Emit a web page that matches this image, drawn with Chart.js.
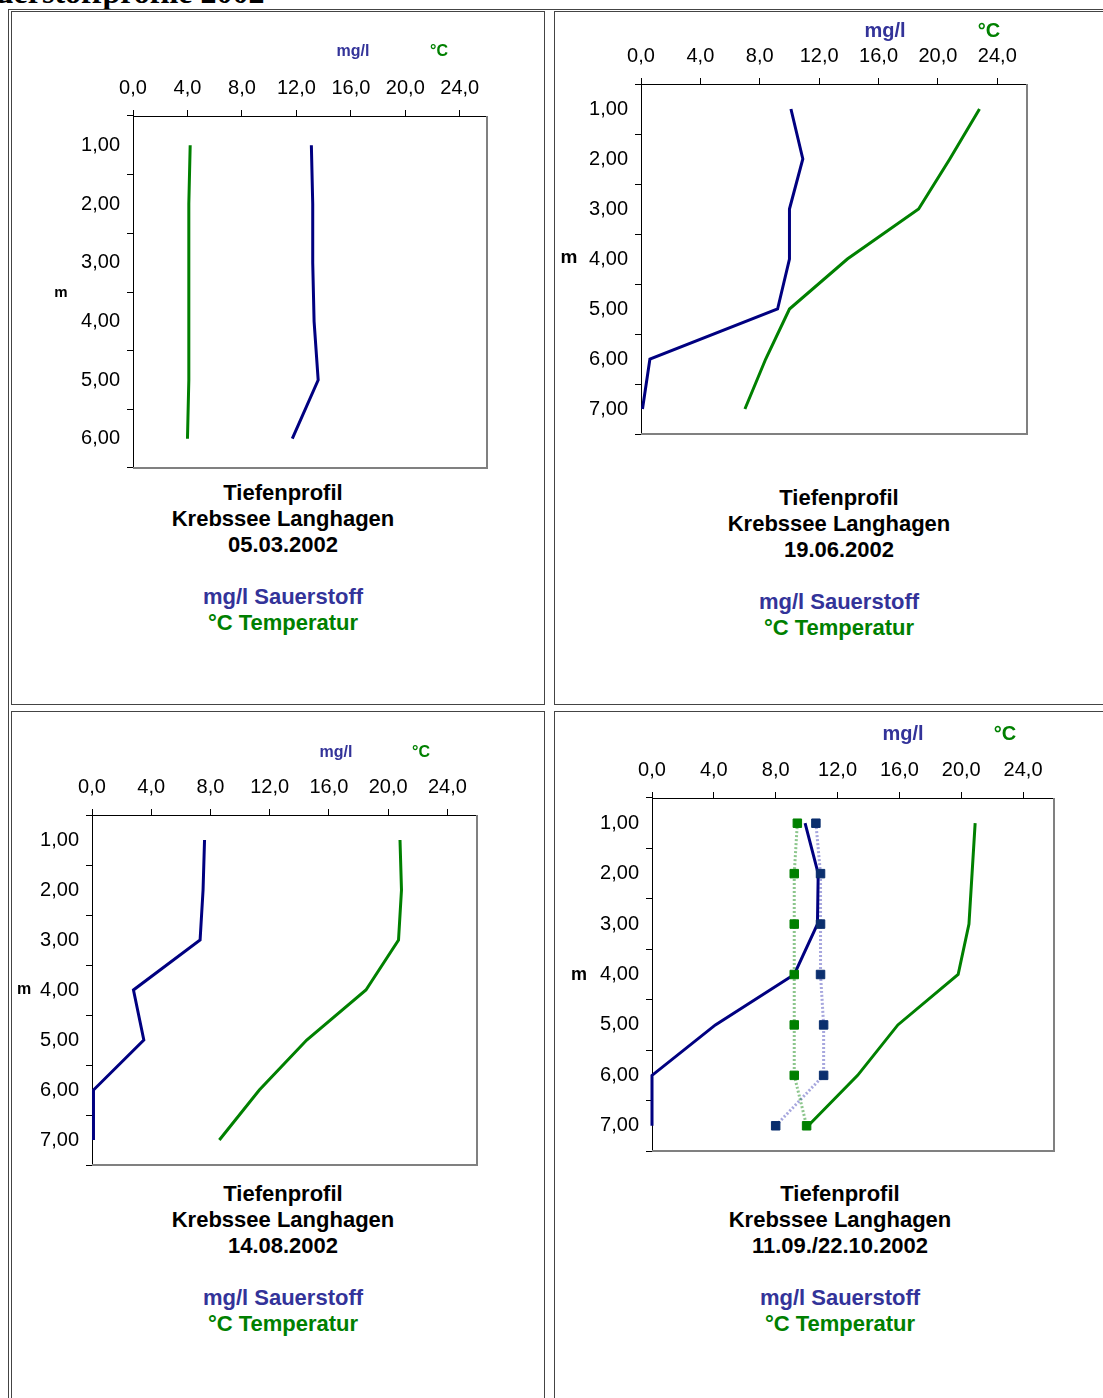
<!DOCTYPE html>
<html lang="de">
<head>
<meta charset="utf-8">
<title>Sauerstoffprofile 2002</title>
<script src="https://cdn.jsdelivr.net/npm/chart.js@4.4.1/dist/chart.umd.min.js"></script>
<style>
  html, body { margin: 0; padding: 0; background: #fff; overflow: hidden; width: 1103px; height: 1398px; }
  body { position: relative; font-family: "Liberation Sans", Arial, sans-serif; color: #000; }
  h1 { position: absolute; left: -38px; top: -26px; margin: 0; line-height: 36px;
       font: bold 32px "Liberation Serif", "Times New Roman", serif; white-space: nowrap; }
  .outer { position: absolute; left: 8px; top: 9px; width: 1200px; height: 1500px; border: 1px solid #444; }
  .cell { position: absolute; border: 1px solid #444; box-sizing: border-box; }
  canvas { position: absolute; }
  .lbl { position: absolute; font-weight: bold; white-space: nowrap; line-height: 1; transform: translate(-50%, -50%); }
  .blue { color: #333399; }
  .green { color: #008000; }
  .caption { position: absolute; width: 400px; text-align: center; font-weight: bold; font-size: 22px; line-height: 26px; white-space: nowrap; }
</style>
</head>
<body>
<h1>Sauerstoffprofile 2002</h1>
<div class="outer"></div>
<div class="cell" style="left:11px;top:11px;width:534px;height:694px"></div>
<div class="cell" style="left:554px;top:11px;width:600px;height:694px"></div>
<div class="cell" style="left:11px;top:711px;width:534px;height:800px"></div>
<div class="cell" style="left:554px;top:711px;width:600px;height:800px"></div>

<canvas id="c1"></canvas>
<canvas id="c2"></canvas>
<canvas id="c3"></canvas>
<canvas id="c4"></canvas>

<!-- Einheiten und Achsentitel -->
<span class="lbl blue" style="left:353px;top:51px;font-size:16px">mg/l</span>
<span class="lbl green" style="left:439px;top:51px;font-size:16px">°C</span>
<span class="lbl" style="left:61px;top:291px;font-size:15px">m</span>

<span class="lbl blue" style="left:885px;top:30px;font-size:20px">mg/l</span>
<span class="lbl green" style="left:989px;top:30px;font-size:20px">°C</span>
<span class="lbl" style="left:569px;top:256px;font-size:19px">m</span>

<span class="lbl blue" style="left:336px;top:752px;font-size:16px">mg/l</span>
<span class="lbl green" style="left:421px;top:752px;font-size:16px">°C</span>
<span class="lbl" style="left:24px;top:989px;font-size:16px">m</span>

<span class="lbl blue" style="left:903px;top:733px;font-size:20px">mg/l</span>
<span class="lbl green" style="left:1005px;top:733px;font-size:20px">°C</span>
<span class="lbl" style="left:579px;top:974px;font-size:18px">m</span>

<!-- Beschriftungen unter den Diagrammen -->
<div class="caption" style="left:83px;top:480px">Tiefenprofil<br>Krebssee Langhagen<br>05.03.2002<br><br><span class="blue">mg/l Sauerstoff</span><br><span class="green">°C Temperatur</span></div>
<div class="caption" style="left:639px;top:485px">Tiefenprofil<br>Krebssee Langhagen<br>19.06.2002<br><br><span class="blue">mg/l Sauerstoff</span><br><span class="green">°C Temperatur</span></div>
<div class="caption" style="left:83px;top:1181px">Tiefenprofil<br>Krebssee Langhagen<br>14.08.2002<br><br><span class="blue">mg/l Sauerstoff</span><br><span class="green">°C Temperatur</span></div>
<div class="caption" style="left:640px;top:1181px">Tiefenprofil<br>Krebssee Langhagen<br>11.09./22.10.2002<br><br><span class="blue">mg/l Sauerstoff</span><br><span class="green">°C Temperatur</span></div>

<script>
// --- DATEN ---
// Tiefen (Kategorien, m)
const depths6 = ['1,00', '2,00', '3,00', '4,00', '5,00', '6,00'];
const depths7 = ['1,00', '2,00', '3,00', '4,00', '5,00', '6,00', '7,00'];

// Achsenteilung oben (mg/l bzw. °C)
const xTickValues = [0, 4, 8, 12, 16, 20, 24];
const xMax = 26;

// 05.03.2002
const o2_0503   = [13.1, 13.2, 13.2, 13.3, 13.6, 11.7];
const temp_0503 = [4.2, 4.1, 4.1, 4.1, 4.1, 4.0];

// 19.06.2002
const o2_1906   = [10.1, 10.9, 10.0, 10.0, 9.2, 0.6, 0.1];
const temp_1906 = [22.8, 20.8, 18.7, 13.9, 10.0, 8.4, 7.0];

// 14.08.2002
const o2_1408   = [7.6, 7.5, 7.3, 2.8, 3.5, 0.1, 0.1];
const temp_1408 = [20.8, 20.9, 20.7, 18.5, 14.5, 11.3, 8.6];

// 11.09.2002 (durchgezogen) und 22.10.2002 (gepunktet, mit Markern)
const o2_1109   = [9.9, 10.75, 10.7, 9.2, 4.1, 0.0, 0.0];
const temp_1109 = [20.9, 20.7, 20.5, 19.8, 15.9, 13.3, 10.1];
const o2_2210   = [10.6, 10.9, 10.9, 10.9, 11.1, 11.1, 8.0];
const temp_2210 = [9.4, 9.2, 9.2, 9.2, 9.2, 9.2, 10.0];

// --- STIL ---
const FONT = '"Liberation Sans", Arial, sans-serif';
const NAVY = '#000080';
const GREEN = '#008000';
const AX_W = 100;   // Platz links fuer die Tiefenachse
const AX_H = 60;    // Platz oben fuer die Werteachse
const PAD = 8;

// grauer Rahmen rechts/unten um die Zeichenflaeche (wie Excel)
const plotFrame = {
    id: 'plotFrame',
    beforeDatasetsDraw(chart) {
        const { ctx, chartArea: a } = chart;
        ctx.save();
        ctx.strokeStyle = '#808080';
        ctx.lineWidth = 2;
        ctx.beginPath();
        ctx.moveTo(a.left, a.bottom);
        ctx.lineTo(a.right, a.bottom);
        ctx.lineTo(a.right, a.top);
        ctx.stroke();
        ctx.restore();
    }
};

function solid(data, color) {
    return { data, borderColor: color, borderWidth: 3, pointRadius: 0, tension: 0, fill: false, clip: false };
}

function dotted(data, lineColor, markColor) {
    return {
        data, borderColor: lineColor, borderWidth: 3, borderDash: [2, 2], tension: 0, fill: false, clip: false,
        pointStyle: 'rect', pointRadius: 6, pointBackgroundColor: markColor, pointBorderColor: markColor, pointBorderWidth: 1
    };
}

function fmt(v) {
    return Number(v).toFixed(1).replace('.', ',');
}

// Achsenbreiten fest, keine Zusatzraender durch Beschriftungen
function fixSize(s, key, val) {
    s[key] = val;
    s.paddingTop = 0; s.paddingBottom = 0; s.paddingLeft = 0; s.paddingRight = 0;
}

function makeChart(id, area, labels, datasets) {
    const cv = document.getElementById(id);
    const w = area.r - area.l + AX_W + PAD;
    const h = area.b - area.t + AX_H + PAD;
    cv.width = w; cv.height = h;
    cv.style.width = w + 'px'; cv.style.height = h + 'px';
    cv.style.left = (area.l - AX_W) + 'px';
    cv.style.top = (area.t - AX_H) + 'px';

    return new Chart(cv.getContext('2d'), {
        type: 'line',
        data: { labels, datasets },
        plugins: [plotFrame],
        options: {
            indexAxis: 'y',
            responsive: false,
            animation: false,
            devicePixelRatio: 1,
            layout: { padding: { left: 0, top: 0, right: PAD, bottom: PAD } },
            plugins: { legend: { display: false }, tooltip: { enabled: false } },
            scales: {
                x: {
                    type: 'linear', position: 'top', min: 0, max: xMax,
                    afterBuildTicks: s => { s.ticks = xTickValues.map(v => ({ value: v })); },
                    afterFit: s => fixSize(s, 'height', AX_H),
                    grid: { drawOnChartArea: false, drawTicks: true, tickLength: 6, color: '#000' },
                    border: { display: true, color: '#000', width: 1 },
                    ticks: { padding: 10, color: '#000', font: { family: FONT, size: 20 }, maxRotation: 0, autoSkip: false, callback: v => fmt(v) }
                },
                y: {
                    type: 'category', offset: true,
                    afterFit: s => fixSize(s, 'width', AX_W),
                    grid: { offset: true, drawOnChartArea: false, drawTicks: true, tickLength: 6, color: '#000' },
                    border: { display: true, color: '#000', width: 1 },
                    ticks: { padding: 7, color: '#000', font: { family: FONT, size: 20 }, autoSkip: false }
                }
            }
        }
    });
}

makeChart('c1', { l: 133, t: 116, r: 487, b: 468 }, depths6, [
    solid(o2_0503, NAVY), solid(temp_0503, GREEN)
]);
makeChart('c2', { l: 641, t: 84, r: 1027, b: 434 }, depths7, [
    solid(o2_1906, NAVY), solid(temp_1906, GREEN)
]);
makeChart('c3', { l: 92, t: 815, r: 477, b: 1165 }, depths7, [
    solid(o2_1408, NAVY), solid(temp_1408, GREEN)
]);
makeChart('c4', { l: 652, t: 798, r: 1054, b: 1151 }, depths7, [
    dotted(temp_2210, 'rgba(0,128,0,0.45)', GREEN),
    dotted(o2_2210, 'rgba(80,80,190,0.5)', '#0b2f6e'),
    solid(o2_1109, NAVY), solid(temp_1109, GREEN)
]);
</script>
</body>
</html>
